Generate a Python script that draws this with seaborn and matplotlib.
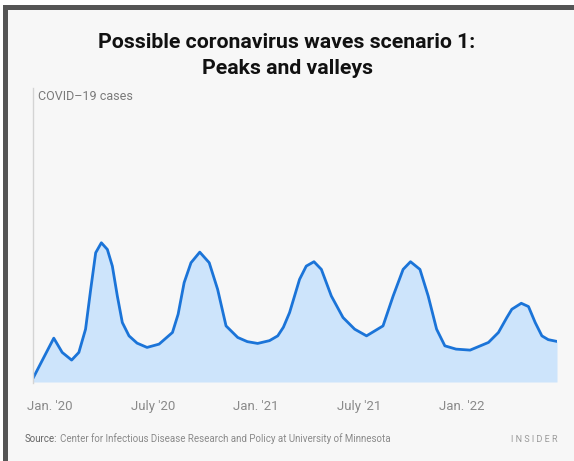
import numpy as np
import pandas as pd
import seaborn as sns
import matplotlib.pyplot as plt
from matplotlib.patches import Rectangle

# months since Jan 2020
months = [-0.98, -0.35, 0.23, 0.72, 1.27, 1.69, 2.08, 2.38, 2.67, 3.0,
          3.35, 3.64, 3.93, 4.22, 4.61, 5.08, 5.66, 6.36, 7.14, 7.47,
          7.82, 8.22, 8.73, 9.28, 9.77, 10.26, 10.94, 11.5, 12.1, 12.79,
          13.27, 13.6, 13.96, 14.54, 14.93, 15.38, 15.81, 16.39, 17.07, 17.75,
          18.44, 19.4, 19.99, 20.57, 21.0, 21.55, 22.03, 22.52, 23.0, 23.65,
          24.47, 25.54, 26.12, 26.61, 26.9, 27.45, 27.87, 28.26, 28.65, 29.02,
          29.53]
cases = [3.7, 24.7, 44, 29.7, 22, 29.7, 53, 93, 129.7, 139.7,
         133, 116.3, 86.3, 59.7, 46.3, 39, 34.7, 38, 49.7, 68,
         99.7, 119.7, 130.3, 119.7, 93, 56.3, 44.7, 40.5, 38.7, 41.5,
         46.3, 55, 69.7, 103, 116.3, 120.7, 113, 86.3, 64.7, 53,
         46.3, 56.3, 86.3, 113, 120.7, 113, 86.3, 53, 36.3, 33,
         32, 39.7, 49.7, 64.7, 73, 79, 75.7, 59.7, 46.3, 42.5,
         40.7]

tick_pos = [0, 6, 12, 18, 24]
tick_labels = ["Jan. '20", "July '20", "Jan. '21", "July '21", "Jan. '22"]

df = pd.DataFrame({"month": months, "cases": cases})

BG = "#f7f7f7"
LINE = "#1b74d8"
FILL = "#cde4fb"

sns.set_theme(style="white")
plt.rcParams['font.family'] = ['Roboto', 'DejaVu Sans']

fig = plt.figure(figsize=(5.74, 4.61), dpi=100)
fig.patch.set_facecolor("white")
W, H = 574, 461
# screenshot frame
fig.add_artist(Rectangle((3 / W, 0), 1, (H - 5) / H, transform=fig.transFigure,
                         facecolor="#555555", edgecolor="none", zorder=-10))
fig.add_artist(Rectangle((8 / W, 0), 1, (H - 10) / H, transform=fig.transFigure,
                         facecolor=BG, edgecolor="none", zorder=-9))

ax = fig.add_axes([33 / W, 1 - 383 / H, (557 - 33) / W, (383 - 88) / H])
ax.set_facecolor(BG)

ax.fill_between(df["month"], df["cases"], 0, color=FILL, linewidth=0)
sns.lineplot(data=df, x="month", y="cases", ax=ax, color=LINE, linewidth=2.0,
             solid_joinstyle="round", solid_capstyle="round")

ax.set_xlim(months[0], months[-1])
ax.set_ylim(-1, 295)
ax.set_xticks(tick_pos)
ax.set_xticklabels(tick_labels)
ax.set_yticks([])
ax.set_xlabel("")
ax.set_ylabel("")
ax.tick_params(axis="x", length=0, pad=12, labelsize=9.5, labelcolor="#8a8a8a")
for s in ["top", "right", "bottom"]:
    ax.spines[s].set_visible(False)
ax.spines["left"].set_color("#d4d4d4")
ax.spines["left"].set_linewidth(1)

fig.text(287 / W, 1 - 43 / H, "Possible coronavirus waves scenario 1:",
         ha="center", va="center", fontsize=15.3, fontweight="bold", color="#111111")
fig.text(287 / W, 1 - 69 / H, "Peaks and valleys",
         ha="center", va="center", fontsize=15.3, fontweight="bold", color="#111111")
fig.text(38 / W, 1 - 96 / H, "COVID–19 cases", ha="left", va="center",
         fontsize=9, color="#7a7a7a")

src = fig.text(25 / W, 1 - 439 / H, "Source:", ha="left", va="center",
               fontsize=7.0, color="#666666")
fig.canvas.draw()
bb = src.get_window_extent()
fig.text(bb.x1 / W + 3 / W, 1 - 439 / H,
         "Center for Infectious Disease Research and Policy at University of Minnesota",
         ha="left", va="center", fontsize=7.0, color="#8a8a8a")
fig.text(558 / W, 1 - 439 / H, "I N S I D E R", ha="right", va="center",
         fontsize=6.5, color="#9a9a9a")

fig.savefig("out.png", dpi=100, facecolor=fig.get_facecolor())
